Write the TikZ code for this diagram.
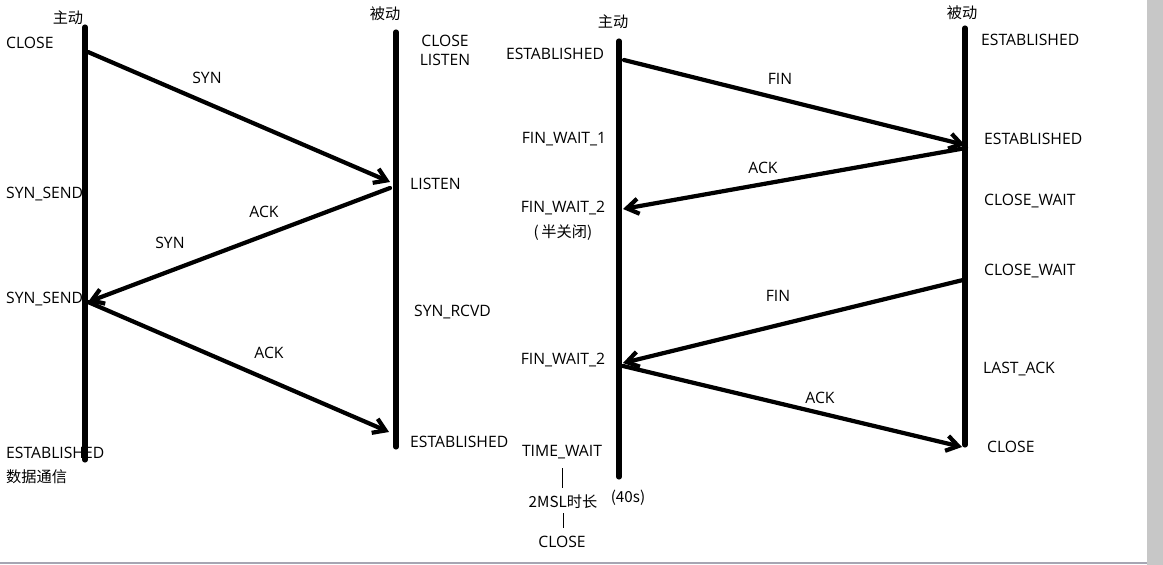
\documentclass[tikz,border=0pt]{standalone}
\usepackage{fontspec}
\setmainfont{Open Sans}
\newfontfamily\cjk{Noto Sans CJK SC}
\usetikzlibrary{arrows.meta,positioning}

\begin{document}
\begin{tikzpicture}[
  x=0.03cm, y=-0.03cm,
  life/.style={line width=4.4pt, line cap=round},
  msg/.style={line width=3.6pt, line cap=round,
    -{Straight Barb[length=10pt, width=13pt]}},
  stat/.style={font=\fontsize{13.4}{15}\selectfont, inner sep=0pt},
  side/.style={font=\cjk\fontsize{13}{15}\selectfont, inner sep=0pt},
  tick/.style={line width=0.8pt}
]
\useasboundingbox (0,0) rectangle (1163,565);
\fill[white] (0,0) rectangle (1163,565);
% scrollbar of the screenshot
\fill[black!22] (1147,0) rectangle (1163,565);
\draw[line width=1pt, blue!15!black!35] (0,563) -- (1147,563);

% ---- three-way handshake ----
\coordinate (c1top) at (85,27);  \coordinate (c1bot) at (85,460);
\coordinate (s1top) at (396,32); \coordinate (s1bot) at (396,447);
\draw[life] (c1top) -- (c1bot);
\draw[life] (s1top) -- (s1bot);

\node[side] (act1) at (68,18) {主动};
\node[side] (pas1) at (385,14) {被动};

\node[stat, anchor=west] (cclose) at (6,43) {CLOSE};
\node[stat] (sclose) at (445,41) {CLOSE};
\node[stat, below=6pt of sclose] (slisten) {LISTEN};
\node[stat, anchor=west] (csend1) at (6,194) {SYN\_SEND};
\node[stat, anchor=west] (slisten2) at (410,184) {LISTEN};
\node[stat, anchor=west] (csend2) at (6,299) {SYN\_SEND};
\node[stat, anchor=west] (srcvd) at (414,312) {SYN\_RCVD};
\node[stat, anchor=west] (cest) at (6,453) {ESTABLISHED};
\node[side, anchor=west] (cdata) at (6,477) {数据通信};
\node[stat, anchor=west] (sest) at (410,442) {ESTABLISHED};

\coordinate (h1) at (88,52);
\coordinate (h2) at (390,182);
\coordinate (h3) at (390,188);
\coordinate (h4) at (88,302);
\coordinate (h5) at (389,432);
\draw[msg] (h1) -- (h2);
\draw[msg] (h3) -- (h4);
\draw[msg] (h4) -- (h5);

\node[stat] (syn1) at (207,78) {SYN};
\node[stat] (ack1) at (264,212) {ACK};
\node[stat] (syn2) at (170,243) {SYN};
\node[stat] (ack2) at (269,353) {ACK};

% ---- four-way wave ----
\coordinate (c2top) at (619,41);  \coordinate (c2bot) at (619,477);
\coordinate (s2top) at (965,28);  \coordinate (s2bot) at (965,445);
\draw[life] (c2top) -- (c2bot);
\draw[life] (s2top) -- (s2bot);

\node[side] (act2) at (613,22) {主动};
\node[side] (pas2) at (962,13) {被动};

\node[stat] (est2) at (555,54) {ESTABLISHED};
\node[stat] (fw1) at (564,139) {FIN\_WAIT\_1};
\node[stat] (fw2) at (563,208) {FIN\_WAIT\_2};
\node[side] (half) at (563,233) {(\,半关闭)};
\node[stat] (fw2b) at (563,360) {FIN\_WAIT\_2};
\node[stat] (tw) at (562,452) {TIME\_WAIT};
\node[side] (msl) at (563,502) {2MSL时长};
\node[side] (sec) at (628,498) {(40s)};
\node[stat] (fclose) at (562,542) {CLOSE};
\draw[tick] (562,468) -- (562,488);
\draw[tick] (563,513) -- (563,528);

\node[stat, anchor=west] (sest2) at (981,40) {ESTABLISHED};
\node[stat, anchor=west] (sest3) at (984,139) {ESTABLISHED};
\node[stat, anchor=west] (cw1) at (984,201) {CLOSE\_WAIT};
\node[stat, anchor=west] (cw2) at (984,271) {CLOSE\_WAIT};
\node[stat, anchor=west] (lack) at (983,369) {LAST\_ACK};
\node[stat, anchor=west] (sclose2) at (987,447) {CLOSE};

\coordinate (w1) at (624,60);
\coordinate (w2) at (965,145);
\coordinate (w3) at (966,148);
\coordinate (w4) at (623,209);
\coordinate (w5) at (963,280);
\coordinate (w6) at (623,363);
\coordinate (w7) at (623,366);
\coordinate (w8) at (962,447);
\draw[msg] (w1) -- (w2);
\draw[msg] (w3) -- (w4);
\draw[msg] (w5) -- (w6);
\draw[msg] (w7) -- (w8);

\node[stat] (fin1) at (780,79) {FIN};
\node[stat] (ack3) at (763,168) {ACK};
\node[stat] (fin2) at (778,296) {FIN};
\node[stat] (ack4) at (820,398) {ACK};
\end{tikzpicture}
\end{document}
